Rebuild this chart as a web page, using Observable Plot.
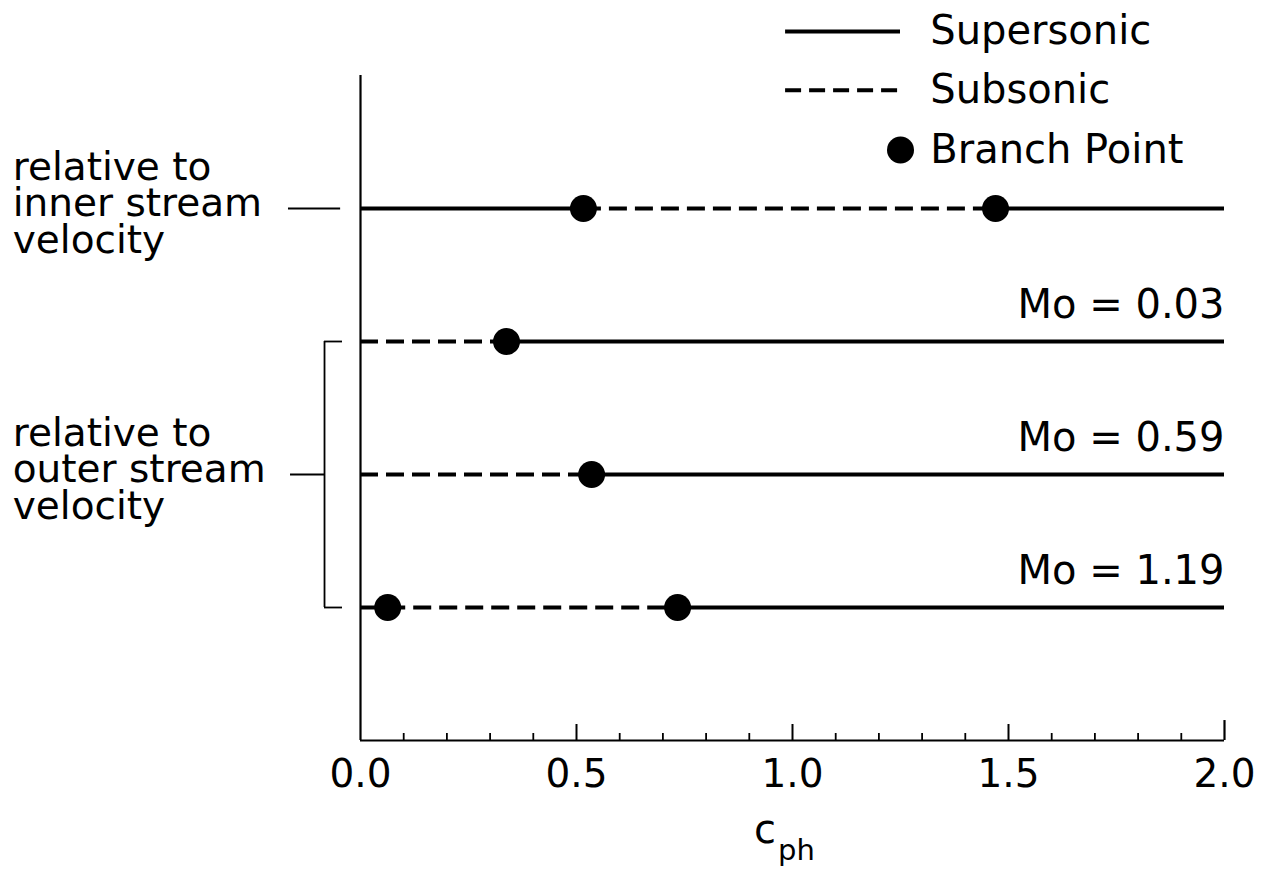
<!DOCTYPE html>
<html>
<head>
<meta charset="utf-8">
<script src="https://cdn.jsdelivr.net/npm/d3@7"></script>
<script src="https://cdn.jsdelivr.net/npm/@observablehq/plot@0.6"></script>
<style>
  html, body { margin: 0; padding: 0; background: white; }
  #chart svg { display: block; }
</style>
</head>
<body>
<div id="chart"></div>
<script>
// ---- data ----
const rows = ["inner stream", "Mo = 0.03", "Mo = 0.59", "Mo = 1.19"];
const rowLevel = [4, 3, 2, 1];
const branchPoints = [[0.516, 1.47], [0.338], [0.535], [0.063, 0.734]];
const regimes = [
  ["Supersonic", "Subsonic", "Supersonic"],
  ["Subsonic", "Supersonic"],
  ["Subsonic", "Supersonic"],
  ["Subsonic", "Subsonic", "Supersonic"]
];
const xStart = 0, xEnd = 2;
const majorTicks = [0, 0.5, 1.0, 1.5, 2.0];
const minorTicks = [0.1,0.2,0.3,0.4,0.6,0.7,0.8,0.9,1.1,1.2,1.3,1.4,1.6,1.7,1.8,1.9];
const tickLabels = ["0.0", "0.5", "1.0", "1.5", "2.0"];
const legendItems = ["Supersonic", "Subsonic", "Branch Point"];
const groupLabels = ["relative to\ninner stream\nvelocity", "relative to\nouter stream\nvelocity"];

// ---- derived tables ----
const segments = rows.flatMap((row, i) => {
  const bp = [xStart, ...branchPoints[i], xEnd];
  return regimes[i].map((reg, j) => ({row, level: rowLevel[i], x1: bp[j], x2: bp[j + 1], regime: reg}));
});
const points = rows.flatMap((row, i) => branchPoints[i].map(x => ({row, level: rowLevel[i], x})));
const moRows = rows.slice(1).map((row, k) => ({row, level: rowLevel[k + 1]}));

const FONT = "DejaVu Sans";
const lw = 4;
const dash = "18,8";
const R = 13.5;

const chart = Plot.plot({
  width: 1270,
  height: 874,
  marginLeft: 360,
  marginRight: 46,
  marginTop: 75,
  marginBottom: 134,
  style: {fontFamily: FONT, background: "white", color: "black", overflow: "visible"},
  x: {domain: [xStart, xEnd]},
  y: {domain: [0, 5], axis: null},
  marks: [
    // axes lines
    Plot.ruleY([0], {x1: xStart, x2: xEnd, strokeWidth: 2.2}),
    Plot.ruleX([0], {y1: 0, y2: 5, strokeWidth: 2.2}),
    Plot.ruleX([xEnd], {y1: 0, y2: 0.15, strokeWidth: 2.2}),
    Plot.axisX({ticks: minorTicks, tickSize: -7, text: null, strokeWidth: 1.8}),
    Plot.axisX({ticks: majorTicks.slice(1, -1), tickSize: -16, text: null, strokeWidth: 2}),
    Plot.axisX({ticks: majorTicks, tickFormat: (d, i) => tickLabels[i], tickSize: 0, tickPadding: 19,
      fontSize: 39, label: null, fill: "black"}),
    // axis title c_ph
    Plot.text(["c"], {x: 0.962, frameAnchor: "bottom", dy: 102, textAnchor: "end", fontSize: 40}),
    Plot.text(["ph"], {x: 0.962, frameAnchor: "bottom", dy: 119, dx: 2, textAnchor: "start", fontSize: 29}),
    // data lines
    Plot.ruleY(segments.filter(d => d.regime === "Supersonic"),
      {y: "level", x1: "x1", x2: "x2", strokeWidth: lw}),
    Plot.ruleY(segments.filter(d => d.regime === "Subsonic"),
      {y: "level", x1: "x1", x2: "x2", strokeWidth: lw, strokeDasharray: dash}),
    Plot.dot(points, {x: "x", y: "level", r: R, fill: "black", stroke: null}),
    // Mo labels
    Plot.text(moRows, {x: xEnd, y: "level", text: "row", textAnchor: "end", lineAnchor: "bottom",
      dy: -24, fontSize: 40}),
    // group labels and connectors
    Plot.text([groupLabels[0]], {x: -0.805, y: rowLevel[0], textAnchor: "start", lineAnchor: "middle",
      dy: -4, fontSize: 39, lineHeight: 0.94}),
    Plot.text([groupLabels[1]], {x: -0.805, y: rowLevel[2], textAnchor: "start", lineAnchor: "middle",
      dy: -4, fontSize: 39, lineHeight: 0.94}),
    Plot.ruleY([rowLevel[0]], {x1: -0.1667, x2: -0.046, strokeWidth: 1.8}),
    Plot.ruleY([rowLevel[2]], {x1: -0.162, x2: -0.0833, strokeWidth: 1.8}),
    Plot.ruleX([-0.0833], {y1: rowLevel[3], y2: rowLevel[1], strokeWidth: 1.8}),
    Plot.ruleY([rowLevel[1], rowLevel[3]], {x1: -0.0833, x2: -0.0417, strokeWidth: 1.8}),
    // legend
    Plot.ruleY([5.33], {x1: 0.984, x2: 1.25, strokeWidth: lw}),
    Plot.ruleY([4.89], {x1: 0.984, x2: 1.25, strokeWidth: lw, strokeDasharray: "16,8"}),
    Plot.dot([4.44], {x: 1.25, y: d => d, r: R, fill: "black", stroke: null}),
    Plot.text(legendItems, {x: 1.319, y: (d, i) => [5.33, 4.89, 4.44][i], textAnchor: "start",
      lineAnchor: "middle", fontSize: 40})
  ]
});
document.getElementById("chart").appendChild(chart);
</script>
</body>
</html>
